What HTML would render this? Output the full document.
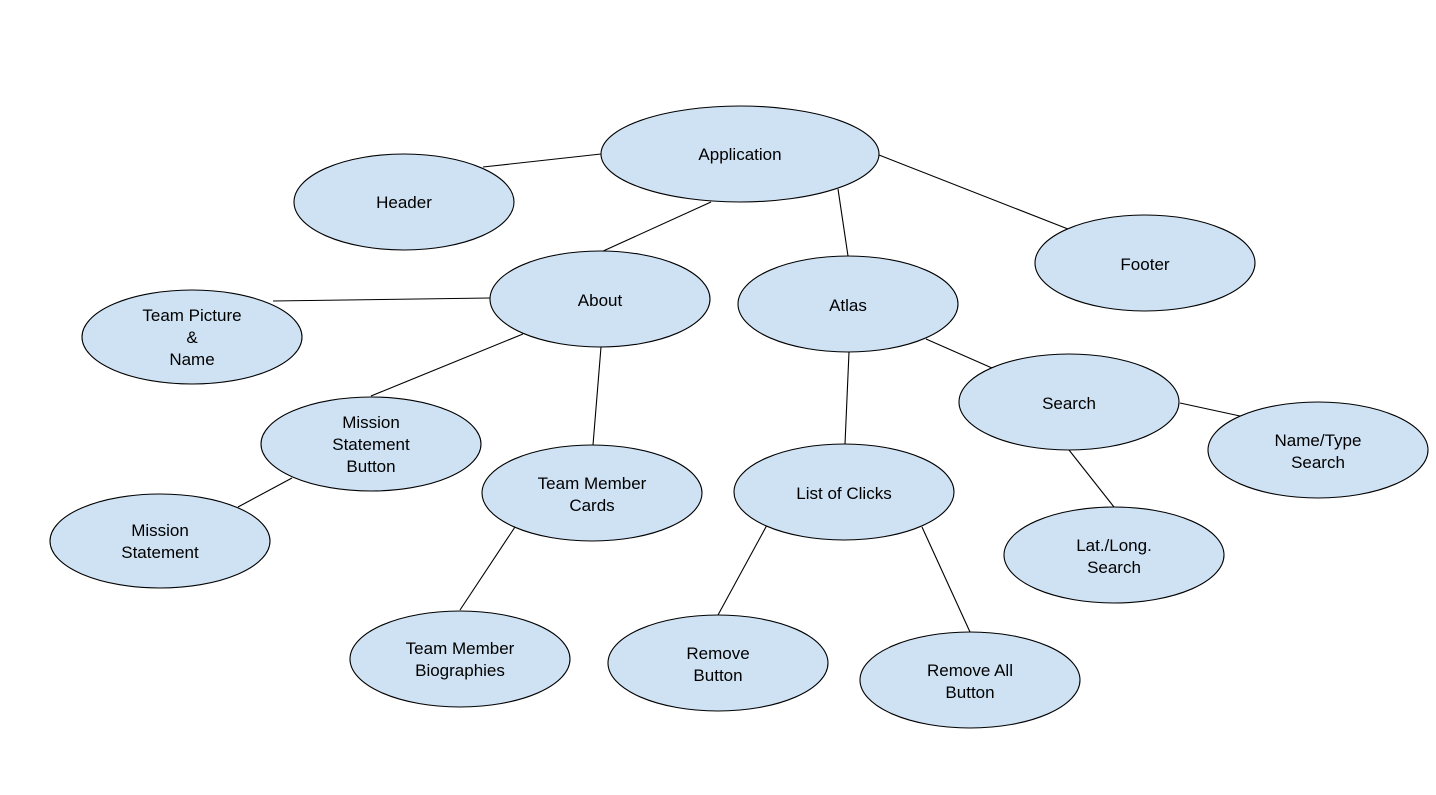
<!DOCTYPE html>
<html><head><meta charset="utf-8"><style>
html,body{margin:0;padding:0;background:#fff;}
svg{display:block;}
text{font-family:"Liberation Sans",Arial,sans-serif;font-size:17px;fill:#000;text-anchor:middle;}
</style></head><body>
<svg width="1436" height="795" viewBox="0 0 1436 795" xmlns="http://www.w3.org/2000/svg">
<g stroke="#000" stroke-width="1.1">
<line x1="483" y1="167" x2="601" y2="154"/>
<line x1="879" y1="155" x2="1068" y2="229"/>
<line x1="711" y1="202" x2="601" y2="252"/>
<line x1="838" y1="189" x2="848" y2="256"/>
<line x1="273" y1="301" x2="490" y2="298"/>
<line x1="523" y1="334" x2="371" y2="396"/>
<line x1="601" y1="347" x2="593" y2="445"/>
<line x1="926" y1="339" x2="992" y2="368"/>
<line x1="1180" y1="403" x2="1240" y2="416"/>
<line x1="849" y1="352" x2="845" y2="444"/>
<line x1="292" y1="478" x2="238" y2="507"/>
<line x1="1069" y1="450" x2="1114" y2="507"/>
<line x1="515" y1="527" x2="460" y2="610"/>
<line x1="767" y1="525" x2="718" y2="615"/>
<line x1="922" y1="527" x2="970" y2="632"/>
</g>
<g fill="#cfe2f3" stroke="#000" stroke-width="1.1">
<ellipse cx="740" cy="154" rx="139" ry="48"/>
<ellipse cx="404" cy="202" rx="110" ry="48"/>
<ellipse cx="1145" cy="263" rx="110" ry="48"/>
<ellipse cx="600" cy="299" rx="110" ry="48"/>
<ellipse cx="848" cy="304" rx="110" ry="48"/>
<ellipse cx="192" cy="337" rx="110" ry="47"/>
<ellipse cx="371" cy="444" rx="110" ry="47"/>
<ellipse cx="1069" cy="402" rx="110" ry="48"/>
<ellipse cx="1318" cy="450" rx="110" ry="48"/>
<ellipse cx="592" cy="493" rx="110" ry="48"/>
<ellipse cx="844" cy="492" rx="110" ry="48"/>
<ellipse cx="160" cy="541" rx="110" ry="47"/>
<ellipse cx="1114" cy="555" rx="110" ry="48"/>
<ellipse cx="460" cy="659" rx="110" ry="48"/>
<ellipse cx="718" cy="663" rx="110" ry="48"/>
<ellipse cx="970" cy="680" rx="110" ry="48"/>
</g>
<text x="740" y="160">Application</text>
<text x="404" y="208">Header</text>
<text x="1145" y="270">Footer</text>
<text x="600" y="306">About</text>
<text x="848" y="311">Atlas</text>
<text x="192" y="321">Team Picture</text>
<text x="192" y="343">&amp;</text>
<text x="192" y="365">Name</text>
<text x="371" y="428">Mission</text>
<text x="371" y="450">Statement</text>
<text x="371" y="472">Button</text>
<text x="1069" y="409">Search</text>
<text x="1318" y="446">Name/Type</text>
<text x="1318" y="468">Search</text>
<text x="592" y="489">Team Member</text>
<text x="592" y="511">Cards</text>
<text x="844" y="499">List of Clicks</text>
<text x="160" y="536">Mission</text>
<text x="160" y="558">Statement</text>
<text x="1114" y="551">Lat./Long.</text>
<text x="1114" y="573">Search</text>
<text x="460" y="654">Team Member</text>
<text x="460" y="676">Biographies</text>
<text x="718" y="659">Remove</text>
<text x="718" y="681">Button</text>
<text x="970" y="676">Remove All</text>
<text x="970" y="698">Button</text>
</svg>
</body></html>
